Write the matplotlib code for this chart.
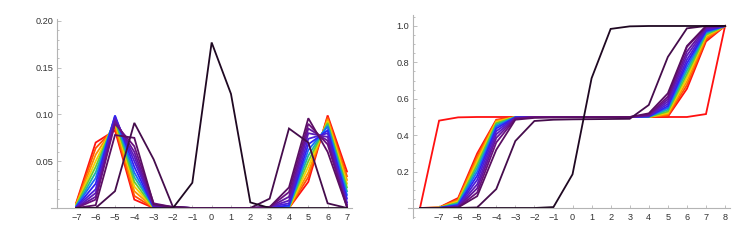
import numpy as np
import matplotlib.pyplot as plt
from matplotlib.colors import LinearSegmentedColormap
from matplotlib.ticker import MultipleLocator, FixedLocator

plt.rcParams['font.family'] = ['Liberation Sans', 'DejaVu Sans']

# ---- data: left panel (distribution over sites -7..7) ----
x_pdf = list(range(-7, 8))

pdf_rainbow = [
    [0.006, 0.070, 0.083, 0.009, 0.000, 0, 0, 0, 0, 0, 0.000, 0.000, 0.028, 0.099, 0.039],
    [0.005, 0.064, 0.086, 0.013, 0.000, 0, 0, 0, 0, 0, 0.000, 0.000, 0.033, 0.097, 0.034],
    [0.004, 0.057, 0.089, 0.018, 0.000, 0, 0, 0, 0, 0, 0.000, 0.000, 0.038, 0.095, 0.030],
    [0.004, 0.050, 0.092, 0.023, 0.000, 0, 0, 0, 0, 0, 0.000, 0.000, 0.044, 0.093, 0.026],
    [0.003, 0.044, 0.094, 0.028, 0.000, 0, 0, 0, 0, 0, 0.000, 0.001, 0.050, 0.091, 0.022],
    [0.002, 0.038, 0.096, 0.033, 0.001, 0, 0, 0, 0, 0, 0.000, 0.001, 0.056, 0.089, 0.018],
    [0.002, 0.032, 0.098, 0.038, 0.001, 0, 0, 0, 0, 0, 0.000, 0.002, 0.062, 0.087, 0.014],
    [0.001, 0.026, 0.099, 0.044, 0.001, 0, 0, 0, 0, 0, 0.000, 0.003, 0.068, 0.083, 0.010],
    [0.001, 0.020, 0.097, 0.050, 0.002, 0.001, 0, 0, 0, 0, 0.001, 0.005, 0.074, 0.080, 0.006],
    [0.000, 0.016, 0.095, 0.055, 0.002, 0.001, 0, 0, 0, 0, 0.001, 0.008, 0.080, 0.076, 0.004],
    [0.000, 0.012, 0.093, 0.060, 0.003, 0.001, 0, 0, 0, 0, 0.001, 0.012, 0.085, 0.072, 0.002],
    [0.000, 0.009, 0.090, 0.066, 0.005, 0.001, 0, 0, 0, 0, 0.001, 0.017, 0.090, 0.068, 0.001],
]
pdf_dark = [
    [0.000, 0.003, 0.078, 0.075, 0.004, 0.001, 0, 0, 0, 0, 0.001, 0.022, 0.096, 0.060, 0.001],
    [0.000, 0.000, 0.018, 0.091, 0.052, 0.001, 0, 0, 0, 0, 0.010, 0.085, 0.070, 0.005, 0.000],
    [0, 0, 0, 0, 0, 0.000, 0.027, 0.177, 0.122, 0.006, 0.000, 0, 0, 0, 0],
]

# ---- data: right panel (cumulative over -8..8) ----
x_cdf = list(range(-8, 9))

cdf_red = [0, 0.48, 0.498, 0.5, 0.5, 0.5, 0.5, 0.5, 0.5, 0.5, 0.5, 0.5, 0.5, 0.5, 0.5, 0.516, 1.0]

cdf_rainbow = [
    [0, 0.003, 0.055, 0.300, 0.485, 0.500, 0.5, 0.5, 0.5, 0.5, 0.5, 0.5, 0.500, 0.502, 0.655, 0.915, 1.0],
    [0, 0.002, 0.048, 0.285, 0.482, 0.500, 0.5, 0.5, 0.5, 0.5, 0.5, 0.5, 0.500, 0.508, 0.675, 0.925, 1.0],
    [0, 0.002, 0.042, 0.270, 0.478, 0.500, 0.5, 0.5, 0.5, 0.5, 0.5, 0.5, 0.500, 0.515, 0.695, 0.935, 1.0],
    [0, 0.001, 0.036, 0.255, 0.473, 0.500, 0.5, 0.5, 0.5, 0.5, 0.5, 0.5, 0.500, 0.522, 0.715, 0.945, 1.0],
    [0, 0.001, 0.030, 0.238, 0.466, 0.500, 0.5, 0.5, 0.5, 0.5, 0.5, 0.5, 0.500, 0.530, 0.735, 0.952, 1.0],
    [0, 0.001, 0.025, 0.220, 0.458, 0.499, 0.5, 0.5, 0.5, 0.5, 0.5, 0.5, 0.501, 0.540, 0.755, 0.960, 1.0],
    [0, 0.000, 0.020, 0.200, 0.448, 0.499, 0.5, 0.5, 0.5, 0.5, 0.5, 0.5, 0.502, 0.550, 0.775, 0.967, 1.0],
    [0, 0.000, 0.015, 0.178, 0.437, 0.498, 0.5, 0.5, 0.5, 0.5, 0.5, 0.5, 0.503, 0.560, 0.795, 0.973, 1.0],
    [0, 0.000, 0.011, 0.155, 0.422, 0.497, 0.5, 0.5, 0.5, 0.5, 0.5, 0.5, 0.505, 0.572, 0.815, 0.980, 1.0],
    [0, 0.000, 0.008, 0.130, 0.405, 0.495, 0.5, 0.5, 0.5, 0.5, 0.5, 0.5, 0.507, 0.585, 0.838, 0.986, 1.0],
    [0, 0.000, 0.005, 0.108, 0.385, 0.493, 0.5, 0.5, 0.5, 0.5, 0.5, 0.5, 0.510, 0.598, 0.860, 0.992, 1.0],
    [0, 0.000, 0.003, 0.085, 0.360, 0.490, 0.5, 0.5, 0.5, 0.5, 0.5, 0.5, 0.513, 0.612, 0.885, 0.996, 1.0],
]
cdf_dark = [
    [0, 0, 0.003, 0.065, 0.320, 0.485, 0.495, 0.497, 0.498, 0.498, 0.499, 0.5, 0.520, 0.630, 0.890, 1.0, 1.0],
    [0, 0, 0, 0.003, 0.104, 0.368, 0.478, 0.485, 0.487, 0.488, 0.489, 0.490, 0.566, 0.830, 0.987, 1.0, 1.0],
    [0, 0, 0, 0, 0, 0, 0, 0.005, 0.185, 0.713, 0.984, 0.998, 1.0, 1.0, 1.0, 1.0, 1.0],
]

# ---- styling ----
rainbow = LinearSegmentedColormap.from_list(
    'rb', [(0.0, '#ff1010'), (0.15, '#ff7a00'), (0.28, '#f4d800'), (0.40, '#30c840'),
           (0.50, '#10a8f0'), (0.60, '#2424ff'), (0.78, '#5a1cc8'), (1.0, '#6a1080')])
dark_colors = ['#5a0f62', '#450c4c', '#1f0822']
axis_col = '#b4b4b4'
label_col = '#333333'
lw = 1.3

fig = plt.figure(figsize=(7.47, 2.44), dpi=100)
W, H = 747, 244


def style_axes(ax, yaxis_x):
    for s in ('top', 'right'):
        ax.spines[s].set_visible(False)
    ax.spines['left'].set_position(('data', yaxis_x))
    ax.spines['bottom'].set_position(('data', 0))
    for s in ('left', 'bottom'):
        ax.spines[s].set_color(axis_col)
        ax.spines[s].set_linewidth(0.8)
    ax.tick_params(which='both', direction='in', color=axis_col, width=0.6,
                   labelsize=6.6, labelcolor=label_col)
    ax.tick_params(axis='y', which='major', length=3.2, pad=2.5)
    ax.tick_params(axis='y', which='minor', length=1.7)
    ax.tick_params(axis='x', which='major', length=2.0, pad=3.5)


# left panel
ax1 = fig.add_axes([51 / W, (H - 208) / H, 301 / W, 189 / H])
n = len(pdf_rainbow)
for i, ys in enumerate(pdf_rainbow):
    ax1.plot(x_pdf, ys, color=rainbow(i / (n - 1)), lw=lw, solid_joinstyle='miter')
for ys, c in zip(pdf_dark, dark_colors):
    ax1.plot(x_pdf, ys, color=c, lw=lw, solid_joinstyle='miter')
ax1.set_xlim(-8.31, 7.26)
ax1.set_ylim(0, 0.2021)
style_axes(ax1, -8)
ax1.xaxis.set_major_locator(FixedLocator(x_pdf))
ax1.yaxis.set_major_locator(FixedLocator([0.05, 0.10, 0.15, 0.20]))
ax1.yaxis.set_minor_locator(MultipleLocator(0.01))
ax1.set_yticklabels(['0.05', '0.10', '0.15', '0.20'])

# right panel
ax2 = fig.add_axes([408 / W, (H - 218) / H, 322 / W, 203 / H])
ax2.plot(x_cdf, cdf_red, color='#ff1010', lw=lw, solid_joinstyle='miter')
n = len(cdf_rainbow)
for i, ys in enumerate(cdf_rainbow):
    ax2.plot(x_cdf, ys, color=rainbow(i / (n - 1)), lw=lw, solid_joinstyle='miter')
for ys, c in zip(cdf_dark, dark_colors):
    ax2.plot(x_cdf, ys, color=c, lw=lw, solid_joinstyle='miter')
ax2.set_xlim(-8.63, 8.26)
ax2.set_ylim(-0.055, 1.0604)
style_axes(ax2, -8.37)
ax2.xaxis.set_major_locator(FixedLocator(list(range(-7, 9))))
ax2.yaxis.set_major_locator(FixedLocator([0.2, 0.4, 0.6, 0.8, 1.0]))
ax2.yaxis.set_minor_locator(MultipleLocator(0.05))
ax2.set_yticklabels(['0.2', '0.4', '0.6', '0.8', '1.0'])

fig.savefig('out.png', dpi=100)
